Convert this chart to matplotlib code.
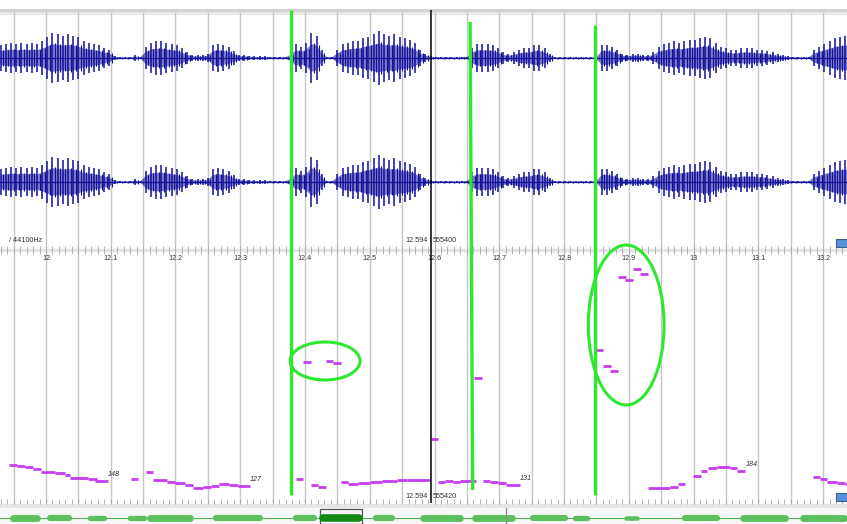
import numpy as np
import matplotlib
matplotlib.use("Agg")
import matplotlib.pyplot as plt
from matplotlib.patches import Ellipse, Rectangle

# ------------------ data ------------------
# visible time range (s) and ruler
VIEW_T0 = 11.929
VIEW_T1 = 13.237
CURSOR_T = 12.594
ruler_labels = ["12", "12.1", "12.2", "12.3", "12.4", "12.5", "12.6",
                "12.7", "12.8", "12.9", "13", "13.1", "13.2"]

# waveform envelope, one value every 8 ms starting at 11.930 s (same on both channels)
WAVE_T0 = 11.930
WAVE_STEP = 0.008
wave_env = [0.45, 0.5, 0.55, 0.5, 0.55, 0.5, 0.55, 0.5, 0.6, 0.75,
            0.9, 0.85, 0.8, 0.85, 0.8, 0.75, 0.6, 0.55, 0.5, 0.45,
            0.35, 0.3, 0.08, 0.04, 0.03, 0.03, 0.1, 0.05, 0.4, 0.55,
            0.6, 0.6, 0.55, 0.5, 0.45, 0.35, 0.2, 0.12, 0.1, 0.1,
            0.15, 0.45, 0.5, 0.45, 0.4, 0.25, 0.12, 0.1, 0.08, 0.07,
            0.06, 0.06, 0.05, 0.05, 0.05, 0.05, 0.2, 0.5, 0.4, 0.55,
            0.9, 0.8, 0.3, 0.05, 0.05, 0.3, 0.5, 0.55, 0.6, 0.6,
            0.7, 0.75, 0.85, 0.95, 0.85, 0.8, 0.85, 0.75, 0.7, 0.65,
            0.55, 0.3, 0.15, 0.08, 0.04, 0.04, 0.04, 0.04, 0.04, 0.04,
            0.05, 0.35, 0.5, 0.5, 0.5, 0.45, 0.35, 0.2, 0.15, 0.2,
            0.3, 0.35, 0.35, 0.45, 0.45, 0.35, 0.15, 0.04, 0.03, 0.03,
            0.03, 0.03, 0.03, 0.03, 0.03, 0.05, 0.45, 0.45, 0.4, 0.3,
            0.15, 0.12, 0.15, 0.15, 0.12, 0.1, 0.2, 0.4, 0.5, 0.55,
            0.6, 0.55, 0.6, 0.65, 0.65, 0.7, 0.75, 0.7, 0.55, 0.4,
            0.35, 0.3, 0.3, 0.35, 0.35, 0.35, 0.3, 0.3, 0.25, 0.2,
            0.15, 0.1, 0.08, 0.05, 0.04, 0.04, 0.05, 0.3, 0.4, 0.5,
            0.6, 0.7, 0.75, 0.8, 0.8]

# pitch track: frame start, frame end (s), value (Hz)
pitch_t0 = [11.943, 11.955, 11.968, 11.980, 11.992, 12.014, 12.029, 12.037, 12.065, 12.076,
            12.131, 12.154, 12.165, 12.187, 12.199, 12.215, 12.227, 12.242, 12.255, 12.267,
            12.283, 12.297, 12.386, 12.409, 12.420, 12.456, 12.466, 12.482, 12.500, 12.519,
            12.542, 12.558, 12.595, 12.605, 12.616, 12.629, 12.639, 12.661, 12.675, 12.686,
            12.698, 12.710, 12.397, 12.432, 12.443, 12.849, 12.860, 12.871, 12.883, 12.894,
            12.907, 12.917, 12.930, 12.964, 12.976, 12.999, 13.012, 13.022, 13.036, 13.056,
            13.067, 13.185, 13.195, 13.206, 13.222, 13.234]
pitch_t1 = [11.955, 11.968, 11.980, 11.992, 12.014, 12.029, 12.037, 12.065, 12.079, 12.096,
            12.142, 12.165, 12.187, 12.199, 12.215, 12.227, 12.242, 12.255, 12.267, 12.283,
            12.297, 12.315, 12.397, 12.420, 12.432, 12.466, 12.482, 12.500, 12.519, 12.542,
            12.558, 12.593, 12.605, 12.616, 12.629, 12.639, 12.664, 12.673, 12.686, 12.698,
            12.710, 12.732, 12.409, 12.443, 12.456, 12.860, 12.873, 12.883, 12.896, 12.907,
            12.919, 12.930, 12.964, 12.976, 12.987, 13.012, 13.021, 13.036, 13.056, 13.067,
            13.080, 13.195, 13.206, 13.222, 13.234, 13.250]
pitch_hz = [213, 209, 203, 196, 185, 179, 172, 161, 155, 148,
            156, 183, 151, 144, 139, 131, 122, 126, 130, 135,
            132, 128, 157, 131, 124, 145, 137, 140, 145, 149,
            153, 152, 316, 145, 148, 145, 148, 560, 149, 143,
            139, 132, 623, 628, 621, 673, 609, 588, 964, 951,
            996, 977, 119, 125, 135, 168, 188, 199, 204, 201,
            187, 165, 156, 145, 139, 135]

# value labels on the pitch layer
label_t = [12.096, 12.315, 12.732, 13.080]
label_hz = [148, 128, 132, 187]
label_txt = ["148", "127", "131", "184"]

# hand-drawn annotations: green boundary strokes (time at top / bottom)
bound_top_t = [12.378, 12.655, 12.848]
bound_bot_t = [12.378, 12.659, 12.848]
# green circles on the pitch layer: centre time, centre Hz, width s, height Hz
circ_t = [12.431, 12.896]
circ_hz = [628, 772]
circ_w = [0.108, 0.117]
circ_h = [152, 640]

# overview strip (whole file), blobs: start, end (s), amplitude
OV_T0 = 1.977
OV_T1 = 28.32
ov_t0 = [2.29, 3.44, 4.68, 5.93, 6.55, 8.60, 11.09, 11.93, 13.58, 15.04,
         16.66, 18.46, 19.77, 21.35, 23.19, 24.99, 26.86]
ov_t1 = [3.22, 4.22, 5.31, 6.55, 7.98, 10.16, 11.84, 13.24, 14.26, 16.38,
         17.99, 19.64, 20.33, 21.88, 24.37, 26.48, 28.32]
ov_amp = [0.45, 0.4, 0.35, 0.35, 0.45, 0.4, 0.4, 0.5, 0.4, 0.45,
          0.45, 0.4, 0.35, 0.3, 0.4, 0.45, 0.45]
OV_MARK_T = 17.71
# --------------------------------------------

W, H = 847, 524
WAVE_COL = "#10109a"
PITCH_COL = "#c83cf0"
GREEN = "#2ee82e"
GRID_COL = "#c6c6c6"
FONT = "Liberation Sans"

fig = plt.figure(figsize=(W / 100, H / 100), dpi=100)
fig.patch.set_facecolor("white")


def px_axes(x0, y0, w, h):
    ax = fig.add_axes([x0 / W, 1 - (y0 + h) / H, w / W, h / H])
    ax.patch.set_alpha(0)
    ax.axis("off")
    return ax


# ---- background: grid, rulers ----
bg = px_axes(0, 0, W, H)
bg.set_xlim(VIEW_T0, VIEW_T1)
bg.set_ylim(H, 0)

bg.axhspan(9, 12, color="#d2d2d2", lw=0)
bg.axhspan(12, 15, color="#eaeaea", lw=0)

grid_t = np.arange(11.95, 13.24, 0.05)
bg.vlines(grid_t, 12, 504, color=GRID_COL, lw=1.0)

ticks = np.arange(11.93, 13.24, 0.01)
bg.axhline(250, color="#e4e4e4", lw=2.5)
bg.vlines(ticks, 246, 254, color="#a8a8a8", lw=0.6)
bg.vlines(ticks, 499, 504, color="#a8a8a8", lw=0.6)
bg.axhspan(504, 508, color="#e6e6e6", lw=0)
bg.axhspan(508, 524, color="#f7f7f7", lw=0)

label_pos = 12.0 + 0.1 * np.arange(len(ruler_labels))
for t, s in zip(label_pos, ruler_labels):
    bg.text(t, 259, s, ha="center", va="center", fontsize=5.2,
            family=FONT, color="#333333")

bg.text(VIEW_T0 + 9 / 647.5, 241, "/ 44100Hz", ha="left", va="center",
        fontsize=5.2, family=FONT, color="#333333")

# ---- waveform, two channels ----
wave_t = WAVE_T0 + WAVE_STEP * np.arange(len(wave_env))
env = np.array(wave_env)
for top in (10, 134):
    ax = px_axes(0, top, W, 96)
    ax.set_xlim(VIEW_T0, VIEW_T1)
    ax.set_ylim(-1.714, 1.714)
    ax.fill_between(wave_t, -0.55 * env, 0.55 * env, color=WAVE_COL,
                    alpha=0.55, lw=0)
    ax.axhline(0, color=WAVE_COL, lw=0.9)
    ax.vlines(wave_t, -env, env, color=WAVE_COL, lw=1.1)
    ax.vlines(wave_t + WAVE_STEP / 2, -0.6 * env, 0.6 * env,
              color=WAVE_COL, lw=0.8)

# ---- pitch layer ----
pa = px_axes(0, 256, W, 244)
pa.set_xlim(VIEW_T0, VIEW_T1)
pa.set_ylim(72, 1048)
pa.hlines(pitch_hz, pitch_t0, pitch_t1, color=PITCH_COL, lw=2.0)
for t, f, s in zip(label_t, label_hz, label_txt):
    pa.annotate(s, (t, f), xytext=(0, 2), textcoords="offset points",
                ha="left", va="bottom", fontsize=5.2, style="italic",
                family=FONT, color="#333333")
for t, f, w, h in zip(circ_t, circ_hz, circ_w, circ_h):
    pa.add_patch(Ellipse((t, f), w, h, fill=False, ec=GREEN, lw=2.2,
                         clip_on=False))

# ---- overview strip ----
ov = px_axes(0, 508, W, 16)
ov.set_xlim(OV_T0, OV_T1)
ov.set_ylim(-0.6, 1.0)
ov.axhline(0, color="#4cb84c", lw=0.8)
for t0, t1, a in zip(ov_t0, ov_t1, ov_amp):
    inside = VIEW_T0 - 0.01 <= t0 <= VIEW_T1
    col = "#138a13" if inside else "#5cc05c"
    ov.hlines(0, t0 + 0.1, t1 - 0.1, color=col, lw=a * 11,
              capstyle="round")
ov.add_patch(Rectangle((VIEW_T0, -0.55), VIEW_T1 - VIEW_T0, 1.5,
                       fill=False, ec="#555555", lw=0.9))
ov.axvline(OV_MARK_T, color="#909090", lw=1.0)

# ---- overlay: annotations, cursor ----
top = px_axes(0, 0, W, H)
top.set_xlim(VIEW_T0, VIEW_T1)
top.set_ylim(H, 0)
for t0, t1, y0, y1 in zip(bound_top_t, bound_bot_t, [10, 22, 25], [495, 490, 495]):
    top.plot([t0, t1], [y0, y1], color=GREEN, lw=2.4, solid_capstyle="butt")
top.vlines(CURSOR_T, 10, 503, color="black", lw=1.1)
for y, s in ((241, "555400"), (497, "555420")):
    top.text(CURSOR_T - 0.004, y, "12.594", ha="right", va="center",
             fontsize=5.2, family=FONT, color="#333333")
    top.text(CURSOR_T + 0.004, y, s, ha="left", va="center",
             fontsize=5.2, family=FONT, color="#333333")

# small blue layer buttons at the right edge
ui = px_axes(0, 0, W, H)
ui.set_xlim(0, W)
ui.set_ylim(H, 0)
for y in (239, 493):
    ui.add_patch(Rectangle((836, y), 12, 8, fc="#5b90d8", ec="#3a5f8f", lw=0.8))

fig.savefig("out.png", dpi=100)
plt.close(fig)
